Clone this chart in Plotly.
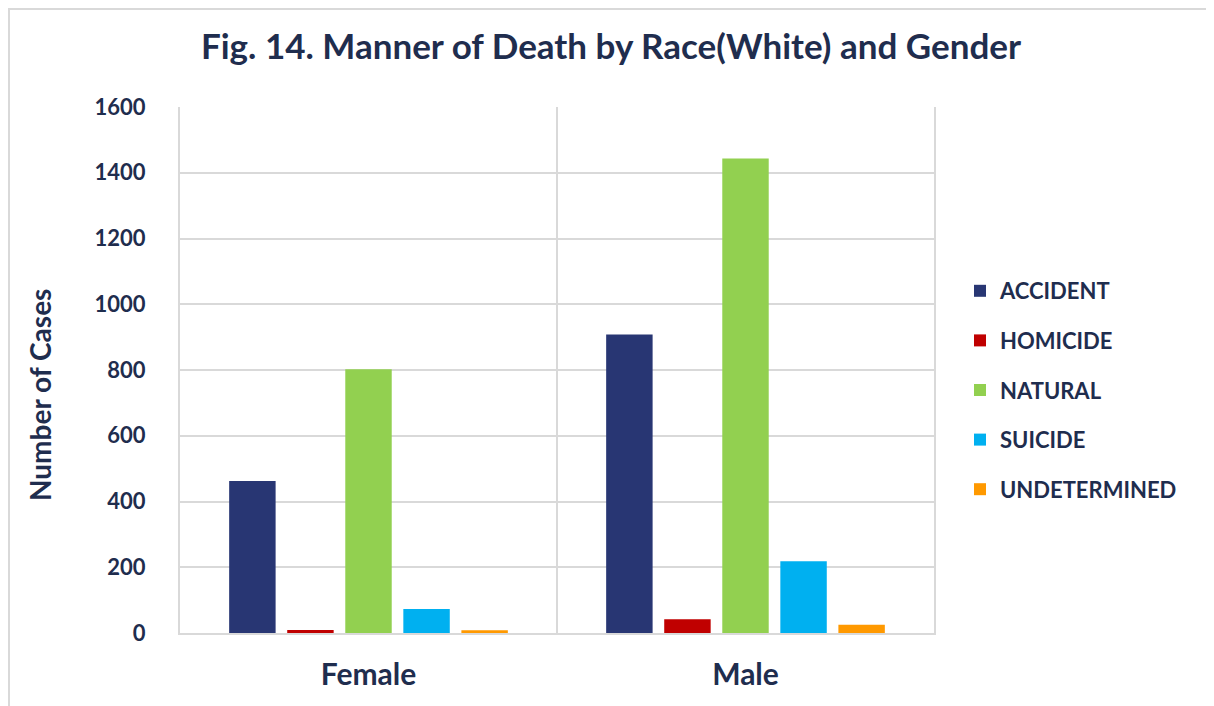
import plotly.graph_objects as go

genders = ["Female", "Male"]
manners = ["ACCIDENT", "HOMICIDE", "NATURAL", "SUICIDE", "UNDETERMINED"]
accident = [462, 908]
homicide = [9, 42]
natural = [802, 1443]
suicide = [73, 218]
undetermined = [8, 25]
series = [accident, homicide, natural, suicide, undetermined]
colors = ["#283673", "#C00000", "#92D050", "#00B0F0", "#FF9900"]
y_ticks = [0, 200, 400, 600, 800, 1000, 1200, 1400, 1600]

FONT = "Lato, 'Open Sans', sans-serif"
TXT = "#1F2D4E"
GRID = "#D9D9D9"

fig = go.Figure()
for name, vals, col in zip(manners, series, colors):
    fig.add_trace(go.Bar(
        x=genders, y=vals, name=name, legendgroup=name,
        marker=dict(color=col, line=dict(width=0)),
    ))

# page is offset by the 8px body margin
W, H = 1206, 698
L, T = 172, 99
R = W - 926
B = H - 625
pw, ph = W - L - R, H - T - B

def px(x):  # figure pixel x -> paper
    return (x - L) / pw

def py(y):  # figure pixel y (from top) -> paper
    return (H - B - y) / ph

fig.update_layout(
    width=W, height=H,
    margin=dict(l=L, r=R, t=T, b=B),
    paper_bgcolor="white", plot_bgcolor="white",
    barmode="group", bargap=0.23, bargroupgap=0.2,
    title=dict(text="Fig. 14. Manner of Death by Race(White) and Gender",
               x=603 / W, xanchor="center", y=1 - 39 / H, yanchor="middle",
               font=dict(family=FONT, size=35, color=TXT, weight="bold")),
    legend=dict(x=px(952), xanchor="left", y=py(382), yanchor="middle",
                font=dict(family=FONT, size=22, color=TXT, weight="bold"),
                tracegroupgap=18, bgcolor="rgba(0,0,0,0)", itemwidth=30),
    font=dict(family=FONT, color=TXT),
)
fig.update_xaxes(
    type="category", tickson="boundaries", showgrid=True, gridcolor=GRID, gridwidth=2,
    ticks="", tickfont=dict(family=FONT, size=30, color=TXT, weight="bold"),
    showline=True, linecolor=GRID, linewidth=2, ticklabelstandoff=14,
)
fig.update_yaxes(
    range=[0, 1600], tickvals=y_ticks, showgrid=True, gridcolor=GRID, gridwidth=2,
    zeroline=False, tickfont=dict(family=FONT, size=22, color=TXT, weight="bold"),
    ticklabelstandoff=28, showline=True, mirror=True, linecolor=GRID, linewidth=2,
)
fig.add_annotation(text="Number of Cases", xref="paper", yref="paper",
                   x=px(32), y=py(387), xanchor="center", yanchor="middle",
                   textangle=-90, showarrow=False,
                   font=dict(family=FONT, size=28, color=TXT, weight="bold"))
# outer chart-area border (top and left edges visible)
fig.add_shape(type="rect", xref="paper", yref="paper",
              x0=px(1), x1=px(W + 20), y0=py(H + 20), y1=py(1),
              line=dict(color=GRID, width=2), fillcolor="rgba(0,0,0,0)", layer="below")

fig.write_html("out.html")
